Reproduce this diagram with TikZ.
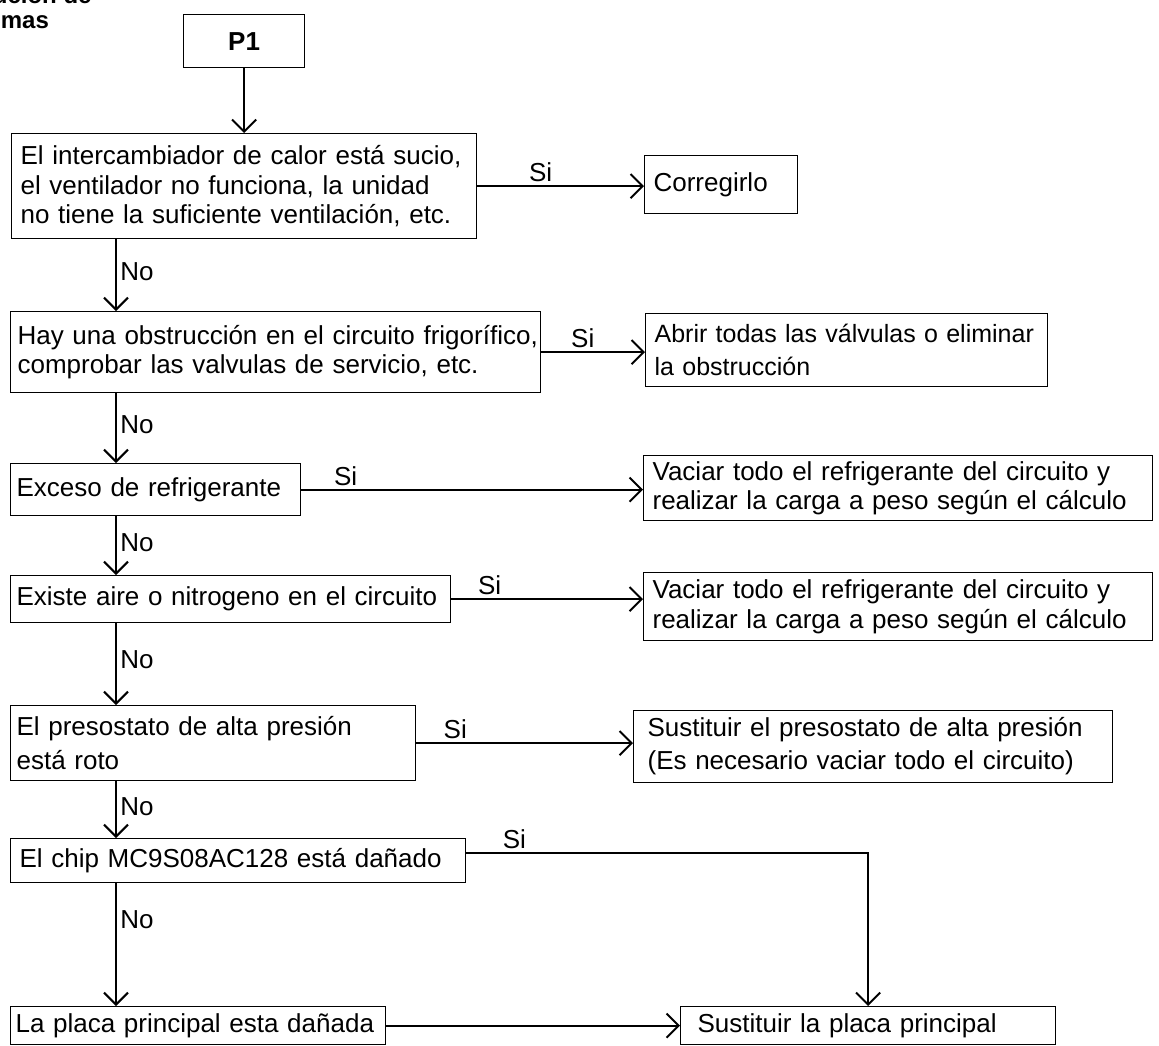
\documentclass[tikz,border=0pt]{standalone}
\usepackage{fontspec}
\setmainfont{Liberation Sans}
\usetikzlibrary{arrows.meta}

\begin{document}
\begin{tikzpicture}[x=1pt,y=-1pt,
			>={Straight Barb[length=12pt,width=24pt]},
			every node/.style={font=\fontsize{26}{29.5}\selectfont},
			box/.style={
				draw,
				line width=1.2pt,
				anchor=north west,
				align=left,
				inner xsep=0pt,
				inner ysep=0pt,
				execute at begin node={\rightskip=0pt plus 2em minus 30pt\leftskip=9pt}
			},
			link/.style={->,line width=2pt}]
			
			\useasboundingbox (0,0) rectangle (1159,1046);
			\clip (0,0) rectangle (1159,1046);
			
			\node (title)[anchor=base west,align=left,font=\fontsize{24}{25}\selectfont\bfseries] at (-76,29){Resolución de\\problemas};
			
			\node (p1)[box,align=center,minimum width=121pt,minimum height=53pt,font=\fontsize{26}{30}\selectfont\bfseries] at (183,14){P1};
			
			\node (chk1)[box,text width=465pt,minimum height=105pt] at (11,133){El intercambiador de calor está sucio,\\el ventilador no funciona, la unidad\\no tiene la suficiente ventilación, etc.};
			
			\node (fix1)[box,text width=153pt,minimum height=58pt] at (644,155){Corregirlo};
			
			\node (chk2)[box,text width=530pt,minimum height=81pt,execute at begin node={\leftskip=7pt}] at (10,311){Hay una obstrucción en el circuito frigorífico,\\comprobar las valvulas de servicio, etc.};
			
			\node (fix2)[box,text width=402pt,minimum height=73pt,font=\fontsize{25}{33}\selectfont] at (645,313){Abrir todas las válvulas o eliminar\\la obstrucción};
			
			\node (chk3)[box,text width=290pt,minimum height=52pt,execute at begin node={\leftskip=6pt}] at (10,463){Exceso de refrigerante};
			
			\node (fix3)[box,text width=509pt,minimum height=65pt] at (643,455){Vaciar todo el refrigerante del circuito y\\realizar la carga a peso según el cálculo};
			
			\node (chk4)[box,text width=440pt,minimum height=47pt,execute at begin node={\leftskip=6pt}] at (10,575){Existe aire o nitrogeno en el circuito};
			
			\node (fix4)[box,text width=509pt,minimum height=68pt] at (643,572){Vaciar todo el refrigerante del circuito y\\realizar la carga a peso según el cálculo};
			
			\node (chk5)[box,text width=405pt,minimum height=75pt,font=\fontsize{26}{34}\selectfont,execute at begin node={\leftskip=6pt}] at (10,705){El presostato de alta presión\\está roto};
			
			\node (fix5)[box,text width=479pt,minimum height=72pt,font=\fontsize{26}{33}\selectfont,execute at begin node={\leftskip=14pt}] at (633,710){Sustituir el presostato de alta presión\\(Es necesario vaciar todo el circuito)};
			
			\node (chk6)[box,text width=455pt,minimum height=44pt] at (10,838){El chip MC9S08AC128 está dañado};
			
			\node (chk7)[box,text width=375pt,minimum height=38pt,execute at begin node={\leftskip=5pt}] at (10,1006){La placa principal esta dañada};
			
			\node (fix7)[box,text width=375pt,minimum height=38pt,execute at begin node={\leftskip=17pt}] at (680,1006){Sustituir la placa principal};
			
			\coordinate (col) at (116,0);
			
			\draw[link](p1)--(chk1);
			
			\draw[link](chk1.east)--node[above,pos=.38]{Si}(chk1.east-|fix1.west);
			
			\draw[link](chk2.east)--node[above,pos=.4]{Si}(chk2.east-|fix2.west);
			
			\draw[link](chk3.east)--node[above,pos=.13]{Si}(chk3.east-|fix3.west);
			
			\draw[link](chk4.east)--node[above,pos=.2]{Si}(chk4.east-|fix4.west);
			
			\draw[link](chk5.east)--node[above,pos=.18]{Si}(chk5.east-|fix5.west);
			
			\draw[link]([yshift=8pt]chk6.east)-|node[above,pos=.06]{Si}(fix7.north);
			
			\draw[link](chk7.east)--(chk7.east-|fix7.west);
			
			\draw[link](chk1.south-|col)--node[right,pos=.45]{No}(chk2.north-|col);
			
			\draw[link](chk2.south-|col)--node[right,pos=.45]{No}(chk3.north-|col);
			
			\draw[link](chk3.south-|col)--node[right,pos=.45]{No}(chk4.north-|col);
			
			\draw[link](chk4.south-|col)--node[right,pos=.45]{No}(chk5.north-|col);
			
			\draw[link](chk5.south-|col)--node[right,pos=.45]{No}(chk6.north-|col);
			
			\draw[link](chk6.south-|col)--node[right,pos=.3]{No}(chk7.north-|col);
			
		\end{tikzpicture}
\end{document}
